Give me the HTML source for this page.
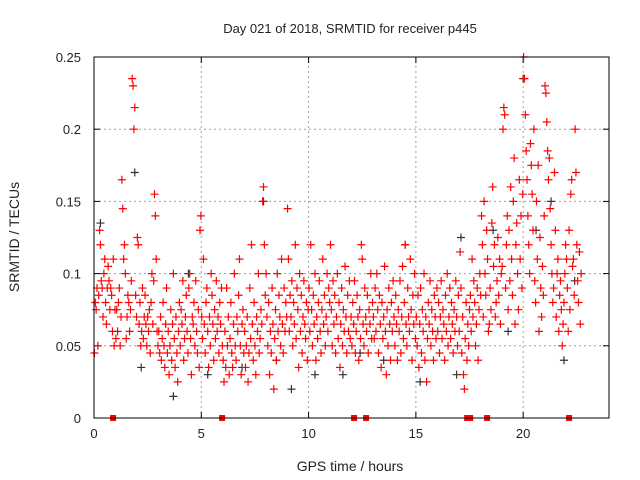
<!DOCTYPE html>
<html><head><meta charset="utf-8"><style>
html,body{margin:0;padding:0;background:#fff;}
svg{display:block;font-family:"Liberation Sans",sans-serif;}
</style></head><body>
<svg id="chart" width="640" height="480" viewBox="0 0 640 480">
<rect x="0" y="0" width="640" height="480" fill="#fff"/>
<text x="350" y="33" text-anchor="middle" font-size="13" fill="#222">Day 021 of 2018, SRMTID for receiver p445</text>
<text transform="translate(19,237) rotate(-90)" text-anchor="middle" font-size="14" fill="#222">SRMTID / TECUs</text>
<text x="350" y="471" text-anchor="middle" font-size="14" fill="#222">GPS time / hours</text>
<g id="grid"></g><g id="ticks"></g><g id="black"></g><g id="red"></g><g id="markers"></g>
<rect x="94" y="57" width="515" height="361" fill="none" stroke="#000" stroke-width="1"/>
</svg>
<script>
const xTicks=[0,5,10,15,20];
const yTicks=[0,0.05,0.1,0.15,0.2,0.25];
const yTickLabels=["0","0.05","0.1","0.15","0.2","0.25"];
const sampleStep=0.04;
const hourStarts=[0,1,2,3,4,5,6,7,8,9,10,11,12,13,14,15,16,17,18,19,20,21,22];
const redValuesByHour=[
[.045,.08,.075,.09,.05,.085,.13,.12,.095,.09,.07,.1,.11,.08,.065,.09,.105,.095,.075,.09,.085,.06,.11,.05,.075],
[.055,.075,.06,.08,.09,.05,.07,.165,.145,.11,.12,.1,.055,.07,.085,.08,.06,.075,.095,.235,.23,.2,.215,.085,.07],
[.125,.12,.065,.08,.05,.06,.09,.055,.07,.085,.065,.05,.07,.06,.075,.045,.08,.1,.065,.095,.155,.14,.11,.06,.05],
[.06,.045,.07,.04,.055,.08,.05,.035,.065,.09,.045,.06,.03,.05,.075,.04,.065,.1,.055,.035,.07,.045,.025,.06,.08],
[.05,.075,.065,.095,.04,.055,.07,.085,.06,.045,.09,.1,.055,.03,.07,.065,.08,.05,.095,.06,.045,.075,.035,.13,.14],
[.07,.055,.11,.065,.045,.08,.09,.06,.035,.07,.05,.1,.085,.065,.04,.075,.055,.095,.06,.07,.045,.08,.065,.09,.05],
[.04,.025,.06,.035,.09,.05,.07,.03,.055,.08,.045,.035,.065,.1,.05,.04,.07,.06,.085,.11,.05,.03,.065,.075,.045],
[.06,.035,.05,.07,.025,.045,.09,.055,.12,.065,.04,.08,.05,.03,.07,.06,.1,.045,.055,.075,.065,.15,.16,.12,.085],
[.1,.07,.05,.08,.03,.06,.045,.09,.065,.02,.055,.075,.04,.1,.06,.085,.07,.05,.11,.065,.045,.09,.06,.08,.07],
[.145,.11,.06,.085,.07,.095,.05,.08,.065,.12,.055,.09,.075,.035,.1,.06,.085,.045,.07,.095,.065,.055,.08,.04,.075],
[.09,.06,.12,.075,.05,.085,.065,.1,.04,.07,.055,.08,.095,.06,.045,.075,.11,.065,.085,.05,.07,.1,.06,.09,.08],
[.12,.075,.05,.095,.065,.085,.045,.07,.1,.055,.08,.035,.065,.09,.05,.075,.06,.105,.07,.045,.085,.06,.095,.055,.07],
[.05,.08,.065,.095,.045,.06,.085,.07,.04,.075,.055,.12,.11,.065,.05,.09,.07,.06,.085,.045,.075,.065,.1,.055,.08],
[.07,.055,.09,.06,.1,.075,.045,.085,.065,.035,.08,.055,.07,.105,.06,.03,.075,.05,.09,.065,.04,.08,.06,.095,.07],
[.05,.085,.065,.04,.075,.06,.095,.045,.07,.105,.055,.08,.12,.065,.05,.09,.07,.06,.11,.075,.04,.085,.065,.1,.055],
[.07,.05,.085,.035,.065,.09,.045,.075,.06,.1,.04,.07,.025,.055,.08,.065,.095,.05,.075,.06,.04,.085,.07,.055,.09],
[.06,.08,.045,.07,.095,.055,.075,.065,.04,.085,.06,.1,.05,.07,.09,.055,.08,.065,.045,.075,.06,.095,.07,.05,.085],
[.06,.115,.09,.045,.07,.03,.02,.055,.08,.04,.065,.05,.075,.085,.06,.11,.07,.095,.08,.05,.065,.09,.04,.075,.1],
[.085,.14,.12,.07,.15,.1,.085,.13,.11,.06,.065,.09,.075,.135,.16,.105,.12,.07,.08,.095,.125,.085,.11,.065,.1],
[.105,.2,.215,.21,.09,.12,.14,.075,.13,.095,.16,.11,.085,.15,.18,.065,.12,.135,.1,.075,.165,.11,.14,.09,.155],
[.25,.235,.21,.185,.165,.14,.12,.1,.19,.175,.155,.13,.2,.095,.08,.15,.11,.175,.06,.125,.09,.07,.105,.085,.14],
[.23,.225,.205,.185,.165,.18,.145,.12,.1,.08,.09,.17,.13,.07,.1,.11,.06,.085,.095,.075,.05,.065,.08,.1,.12],
[.11,.09,.06,.13,.075,.155,.165,.105,.11,.085,.2,.17,.12,.095,.08,.115,.065,.1]
];
const blackTimes=[0.3,1.9,2.2,3.7,4.4,5.3,6.9,7.9,8.5,9.2,10.3,11.6,12.4,13.5,14.5,15.2,16.9,17.1,18.6,19.3,20.0,20.6,21.3,21.9,22.4];
const blackValues=[.135,.17,.035,.015,.1,.03,.035,.15,.04,.02,.03,.03,.045,.04,.12,.025,.03,.125,.13,.06,.235,.13,.15,.04,.095];
const markerTimes=[0.89,5.97,12.12,12.68,17.39,17.53,18.32,22.14];

const NS="http://www.w3.org/2000/svg";
const X0=94,X1=609,Y0=418,Y1=57,XMAX=24,YMAX=0.25;
function sx(t){return X0+(X1-X0)*t/XMAX;}
function sy(v){return Y0-(Y0-Y1)*v/YMAX;}
function mk(tag,attrs,parent){const e=document.createElementNS(NS,tag);for(const k in attrs)e.setAttribute(k,attrs[k]);parent.appendChild(e);return e;}
const grid=document.getElementById('grid'),ticks=document.getElementById('ticks');
xTicks.forEach((t,i)=>{
  const x=sx(t);
  if(t>0){const g=mk('line',{x1:x,y1:Y0,x2:x,y2:Y1,stroke:'#a0a0a0','stroke-dasharray':'2,3'},grid);
  
  }
  mk('line',{x1:x,y1:Y0,x2:x,y2:Y0-6,stroke:'#000'},ticks);
  mk('line',{x1:x,y1:Y1,x2:x,y2:Y1+6,stroke:'#000'},ticks);
  const l=mk('text',{x:x,y:Y0+20,'text-anchor':'middle','font-size':13,fill:'#222'},ticks);
  l.textContent=String(t);
  
  
});
yTicks.forEach((v,i)=>{
  const y=sy(v);
  if(v>0&&v<0.25){const g=mk('line',{x1:X0,y1:y,x2:X1,y2:y,stroke:'#a0a0a0','stroke-dasharray':'2,3'},grid);
  
  }
  mk('line',{x1:X0,y1:y,x2:X0+6,y2:y,stroke:'#000'},ticks);
  mk('line',{x1:X1,y1:y,x2:X1-6,y2:y,stroke:'#000'},ticks);
  const l=mk('text',{x:X0-13,y:y+5,'text-anchor':'end','font-size':13,fill:'#222'},ticks);
  l.textContent=yTickLabels[i];
  
  
});
function cross(t,v,color,parent,name){
  const x=sx(t),y=sy(v);
  const p=mk('path',{d:`M${x-4},${y}H${x+4}M${x},${y-4}V${y+4}`,stroke:color,'stroke-width':1.2,fill:'none'},parent);
  
  
}
const blackG=document.getElementById('black'),redG=document.getElementById('red');
blackTimes.forEach((t,i)=>cross(t,blackValues[i],'#333',blackG,'black-point'));
redValuesByHour.forEach((row,h)=>row.forEach((v,i)=>cross(hourStarts[h]+(i+0.5)*sampleStep,v,'#ff0000',redG,'red-point')));
const mg=document.getElementById('markers');
markerTimes.forEach(t=>{
  const r=mk('rect',{x:sx(t)-3,y:Y0-3,width:6,height:6,fill:'#ff0000'},mg);
  
  
});
</script>
</body></html>
